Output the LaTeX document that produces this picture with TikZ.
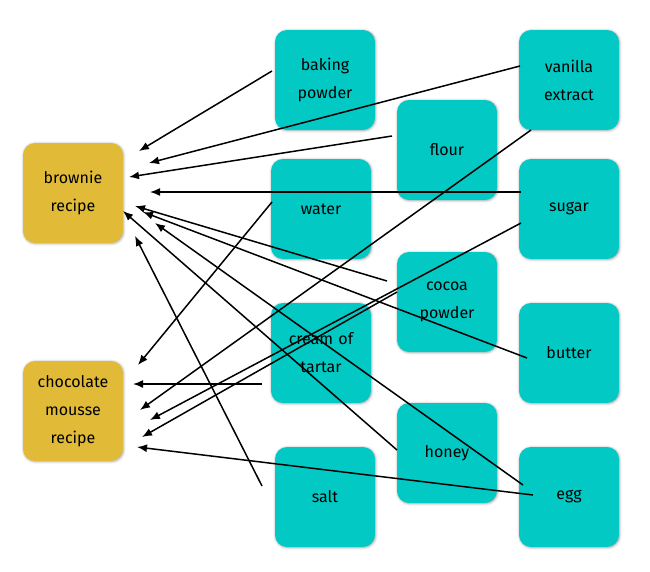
\documentclass[tikz,border=0pt]{standalone}
\usepackage{fontspec}
\setmainfont{Fira Sans}
\usetikzlibrary{arrows.meta,shadows.blur}
\definecolor{tealbox}{RGB}{3,201,196}
\definecolor{goldbox}{RGB}{225,187,55}
\tikzset{
  card/.style={rounded corners=12pt, minimum width=100pt, minimum height=100pt,
    inner sep=0pt, align=center, text width=96pt,
    font=\fontsize{16}{28}\selectfont,
    blur shadow={shadow blur steps=6, shadow xshift=0.6pt, shadow yshift=-0.6pt,
      shadow blur radius=2.5pt, shadow opacity=35}},
  ingredient/.style={card, fill=tealbox},
  recipe/.style={card, fill=goldbox},
  uses/.style={line width=1.5pt, -{Latex[length=10pt,width=8pt]}},
}
\begin{document}
\begin{tikzpicture}[x=1pt,y=-1pt]
\useasboundingbox (0,0) rectangle (650,571);

% recipes
\node[recipe] (br) at (73,193) {brownie\\recipe};
\node[recipe] (mo) at (73,411) {chocolate\\mousse\\recipe};

% ingredients
\node[ingredient] (bp) at (325,80)  {baking\\powder};
\node[ingredient] (va) at (569,80)  {vanilla\\extract};
\node[ingredient] (fl) at (447,150) {flour};
\node[ingredient] (wa) at (321,209) {water};
\node[ingredient] (su) at (569,209) {sugar};
\node[ingredient] (co) at (447,302) {cocoa\\powder};
\node[ingredient] (bu) at (569,353) {butter};
\node[ingredient] (ct) at (321,353) {cream of\\tartar};
\node[ingredient] (ho) at (447,453) {honey};
\node[ingredient] (eg) at (569,497) {egg};
\node[ingredient] (sa) at (325,497) {salt};

% ingredients of the brownie
\draw[uses] ([shift={(-53,-9)}]bp.center)  -- ([shift={(66,-42)}]br.center);
\draw[uses] ([shift={(-49,-14)}]va.center) -- ([shift={(76,-30)}]br.center);
\draw[uses] ([shift={(-55,-14)}]fl.center) -- ([shift={(56,-16)}]br.center);
\draw[uses] ([shift={(-48,-17)}]su.center) -- ([shift={(77,-1)}]br.center);
\draw[uses] ([shift={(-60,-21)}]co.center) -- ([shift={(62,13)}]br.center);
\draw[uses] ([shift={(-42,5)}]bu.center)   -- ([shift={(70,19)}]br.center);
\draw[uses] ([shift={(-50,-3)}]ho.center)  -- ([shift={(50,18)}]br.center);
\draw[uses] ([shift={(-46,-12)}]eg.center) -- ([shift={(82,30)}]br.center);
\draw[uses] ([shift={(-63,-11)}]sa.center) -- ([shift={(62,43)}]br.center);

% ingredients of the mousse
\draw[uses] ([shift={(-49,-7)}]wa.center)  -- ([shift={(65,-46)}]mo.center);
\draw[uses] ([shift={(-59,31)}]ct.center)  -- ([shift={(60,-27)}]mo.center);
\draw[uses] ([shift={(-38,50)}]va.center)  -- ([shift={(67,-1)}]mo.center);
\draw[uses] ([shift={(-48,14)}]su.center)  -- ([shift={(77,9)}]mo.center);
\draw[uses] ([shift={(-50,-10)}]co.center) -- ([shift={(69,26)}]mo.center);
\draw[uses] ([shift={(-36,-2)}]eg.center)  -- ([shift={(64,36)}]mo.center);
\end{tikzpicture}
\end{document}
